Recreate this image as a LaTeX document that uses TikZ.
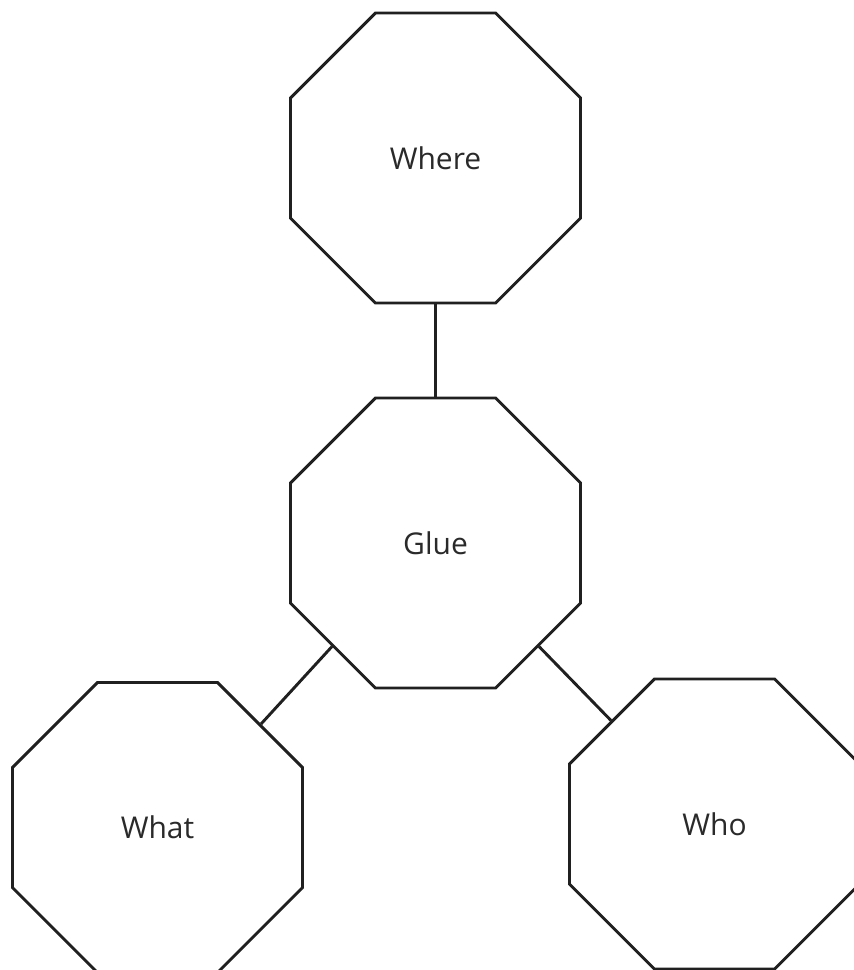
\documentclass[tikz,border=0pt]{standalone}
\usepackage{fontspec}
\setmainfont{Open Sans}
\usetikzlibrary{shapes.geometric}
\definecolor{linec}{HTML}{202020}
\definecolor{textc}{HTML}{2A2A2A}
\tikzset{
  octa/.style={draw=linec, line width=2.9pt, regular polygon, regular polygon sides=8,
    minimum size=313.9pt, inner sep=0pt, fill=white, text=textc,
    font=\fontsize{30}{34}\selectfont},
  link/.style={draw=linec, line width=2.9pt}
}
\begin{document}
\begin{tikzpicture}[x=1pt,y=-1pt]
\useasboundingbox (0,0) rectangle (854,970);
\fill[white] (0,0) rectangle (854,970);
\node[octa] (where) at (435.5,158) {Where};
\node[octa] (glue) at (435.5,543) {Glue};
\node[octa] (what) at (157.5,827.5) {What};
\node[octa] (who) at (714.5,824) {Who};
\draw[link] (where.-90) -- (glue.90);
\draw[link] (glue.225) -- (what.45);
\draw[link] (glue.-45) -- (who.135);
\end{tikzpicture}
\end{document}
